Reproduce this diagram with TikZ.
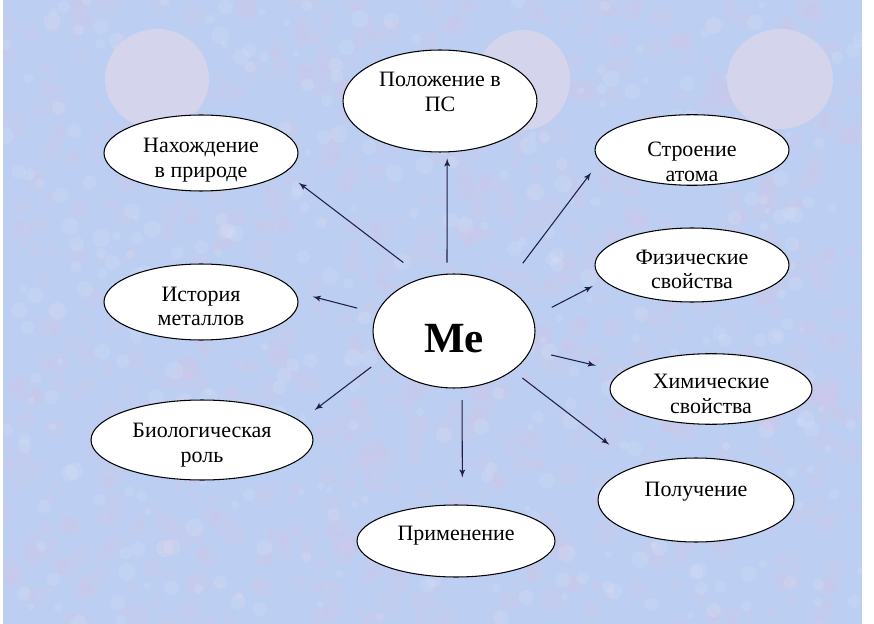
\documentclass[tikz,border=0pt]{standalone}
\usepackage{fontspec}
\setmainfont{Liberation Serif}
\usetikzlibrary{shapes, arrows}
\definecolor{paper}{RGB}{188,206,241}
\definecolor{blush}{RGB}{218,198,232}
\definecolor{spot}{RGB}{212,212,236}
\definecolor{ink}{RGB}{30,30,70}
\tikzstyle{oval} = [ellipse, draw, fill=white, inner sep=0pt, line width=0.6pt, align=center, font=\fontsize{12.5}{14.2}\selectfont]
\tikzstyle{line} = [draw, ink, line width=0.6pt, -latex']
% text moved up or down inside an oval
\newcommand{\nudge}[2]{\raisebox{#1}[\height][\depth]{\begin{tabular}{@{}c@{}}#2\end{tabular}}}

\begin{document}
\begin{tikzpicture}[x=0.02cm, y=-0.02cm]
    \useasboundingbox (0,0) rectangle (874,624);
    % Background
    \fill[white] (0,0) rectangle (874,624);
    \begin{scope}
        \clip (3,0) rectangle (862,624);
        \fill[paper] (3,0) rectangle (862,624);
        \pgfmathsetseed{7}
        \foreach \i in {1,...,900}
            \fill[blush, opacity=0.18] (4+rnd*858,rnd*624) circle[radius=4+rnd*8];
        \foreach \i in {1,...,400}
            \fill[white, opacity=0.1] (4+rnd*858,rnd*624) circle[radius=3+rnd*6];
    \end{scope}
    \fill[spot] (157,79) circle[x radius=52, y radius=50];
    \fill[spot] (523,80) circle[x radius=47, y radius=50];
    \fill[spot] (780,79) circle[x radius=53, y radius=50];

    % Nodes
    \node [oval, minimum width=3.24cm, minimum height=2.28cm, font=\fontsize{24.5}{28}\selectfont\bfseries] (me) at (454,331) {\nudge{-6.8pt}{Me}};
    \node [oval, minimum width=3.88cm, minimum height=2.04cm] (pos) at (440,101) {\nudge{4pt}{Положение в\\ПС}};
    \node [oval, minimum width=3.88cm, minimum height=1.52cm] (nah) at (201,153) {\nudge{-4.2pt}{Нахождение\\в природе}};
    \node [oval, minimum width=3.88cm, minimum height=1.52cm] (hist) at (201,302) {\nudge{-3.7pt}{История\\металлов}};
    \node [oval, minimum width=4.44cm, minimum height=1.60cm] (bio) at (202,440) {\nudge{-2.8pt}{Биологическая\\роль}};
    \node [oval, minimum width=3.88cm, minimum height=1.28cm] (atom) at (692,150) {\nudge{-8pt}{Строение\\атома}};
    \node [oval, minimum width=3.88cm, minimum height=1.48cm] (phys) at (692,265) {\nudge{-3.7pt}{Физические\\свойства}};
    \node [oval, minimum width=4.04cm, minimum height=1.36cm] (chem) at (711,389) {\nudge{-4pt}{Химические\\свойства}};
    \node [oval, minimum width=3.92cm, minimum height=1.68cm] (pol) at (696,500) {\nudge{5pt}{Получение}};
    \node [oval, minimum width=3.96cm, minimum height=1.44cm] (prim) at (456,541) {\nudge{3.4pt}{Применение}};

    % Lines
    \path [line, shorten <=0.22cm, shorten >=0.12cm] (me.97) -- (pos.278);
    \path [line, shorten <=0.50cm, shorten >=0.34cm] (me.120) -- (nah.347);
    \path [line, shorten <=0.58cm, shorten >=0.28cm] (me.41) -- (atom.187);
    \path [line, shorten <=0.40cm, shorten >=0.36cm] (me.167) -- (hist.6);
    \path [line, shorten <=0.42cm, shorten >=0.24cm] (me.10) -- (phys.190);
    \path [line, shorten <=0.42cm, shorten >=0.54cm] (me.346) -- (chem.169);
    \path [line, shorten <=0.24cm, shorten >=0.70cm] (me.326) -- (pol.150);
    \path [line, shorten <=0.24cm, shorten >=0.54cm] (me.278) -- (prim.80);
    \path [line, shorten <=0.28cm, shorten >=0.36cm] (me.201) -- (bio.11);
\end{tikzpicture}
\end{document}
